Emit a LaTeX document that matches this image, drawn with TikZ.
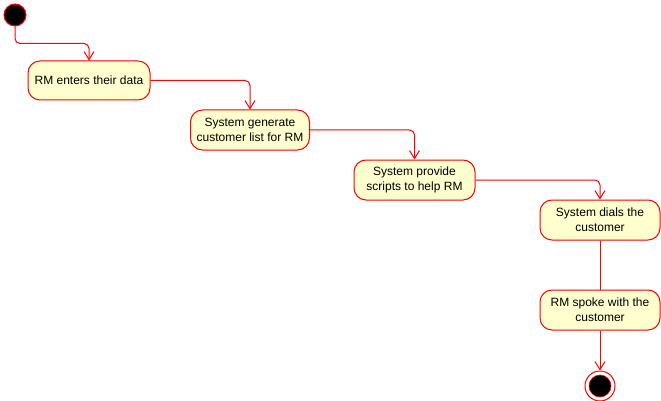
\documentclass[tikz,border=0pt]{standalone}
\usepackage{fontspec}
\setmainfont{Liberation Sans}
\usetikzlibrary{arrows.meta}
\definecolor{actfill}{HTML}{FEFECE}
\definecolor{actline}{HTML}{FF0000}
\begin{document}
\begin{tikzpicture}[x=1pt,y=-1pt,
  act/.style={draw=actline, fill=actfill, line width=1pt, rounded corners=12pt,
    align=center, inner sep=0pt, font=\fontsize{12}{15}\selectfont,
    minimum height=40pt},
  flow/.style={draw=actline, line width=1pt, rounded corners=5pt,
    -{Straight Barb[length=8pt,width=10pt,line width=1pt]}},
  plain/.style={draw=actline, line width=1pt},
  startnode/.style={circle, fill=black, draw=actline, line width=1pt, minimum size=22pt, inner sep=0pt},
  endouter/.style={circle, fill=white, draw=actline, line width=1pt, minimum size=30pt, inner sep=0pt},
  endinner/.style={circle, fill=black, draw=actline, line width=0.6pt, minimum size=22pt, inner sep=0pt}]
\useasboundingbox (0,0) rectangle (661,401);
\node[startnode] (s) at (15,15) {};
\node[act, minimum width=122pt, minimum height=39pt] (b1) at (89,80.5) {RM enters their data};
\node[act, minimum width=119pt] (b2) at (250,130) {System generate\\customer list for RM};
\node[act, minimum width=121pt] (b3) at (414.5,180) {System provide\\scripts to help RM};
\node[act, minimum width=120pt] (b4) at (600,220) {System dials the\\customer};
\node[act, minimum width=120pt] (b5) at (600,310) {RM spoke with the\\customer};
\node[endouter] (e) at (600,386) {};
\node[endinner] (ei) at (e.center) {};
\draw[flow] (s.south) -- ++(0,17) -| (b1.north);
\draw[flow] (b1.east) -| (b2.north);
\draw[flow] (b2.east) -| (b3.north);
\draw[flow] (b3.east) -| (b4.north);
\draw[plain] (b4.south) -- (b5.north);
\draw[flow] (b5.south) -- (e.north);
\end{tikzpicture}
\end{document}
